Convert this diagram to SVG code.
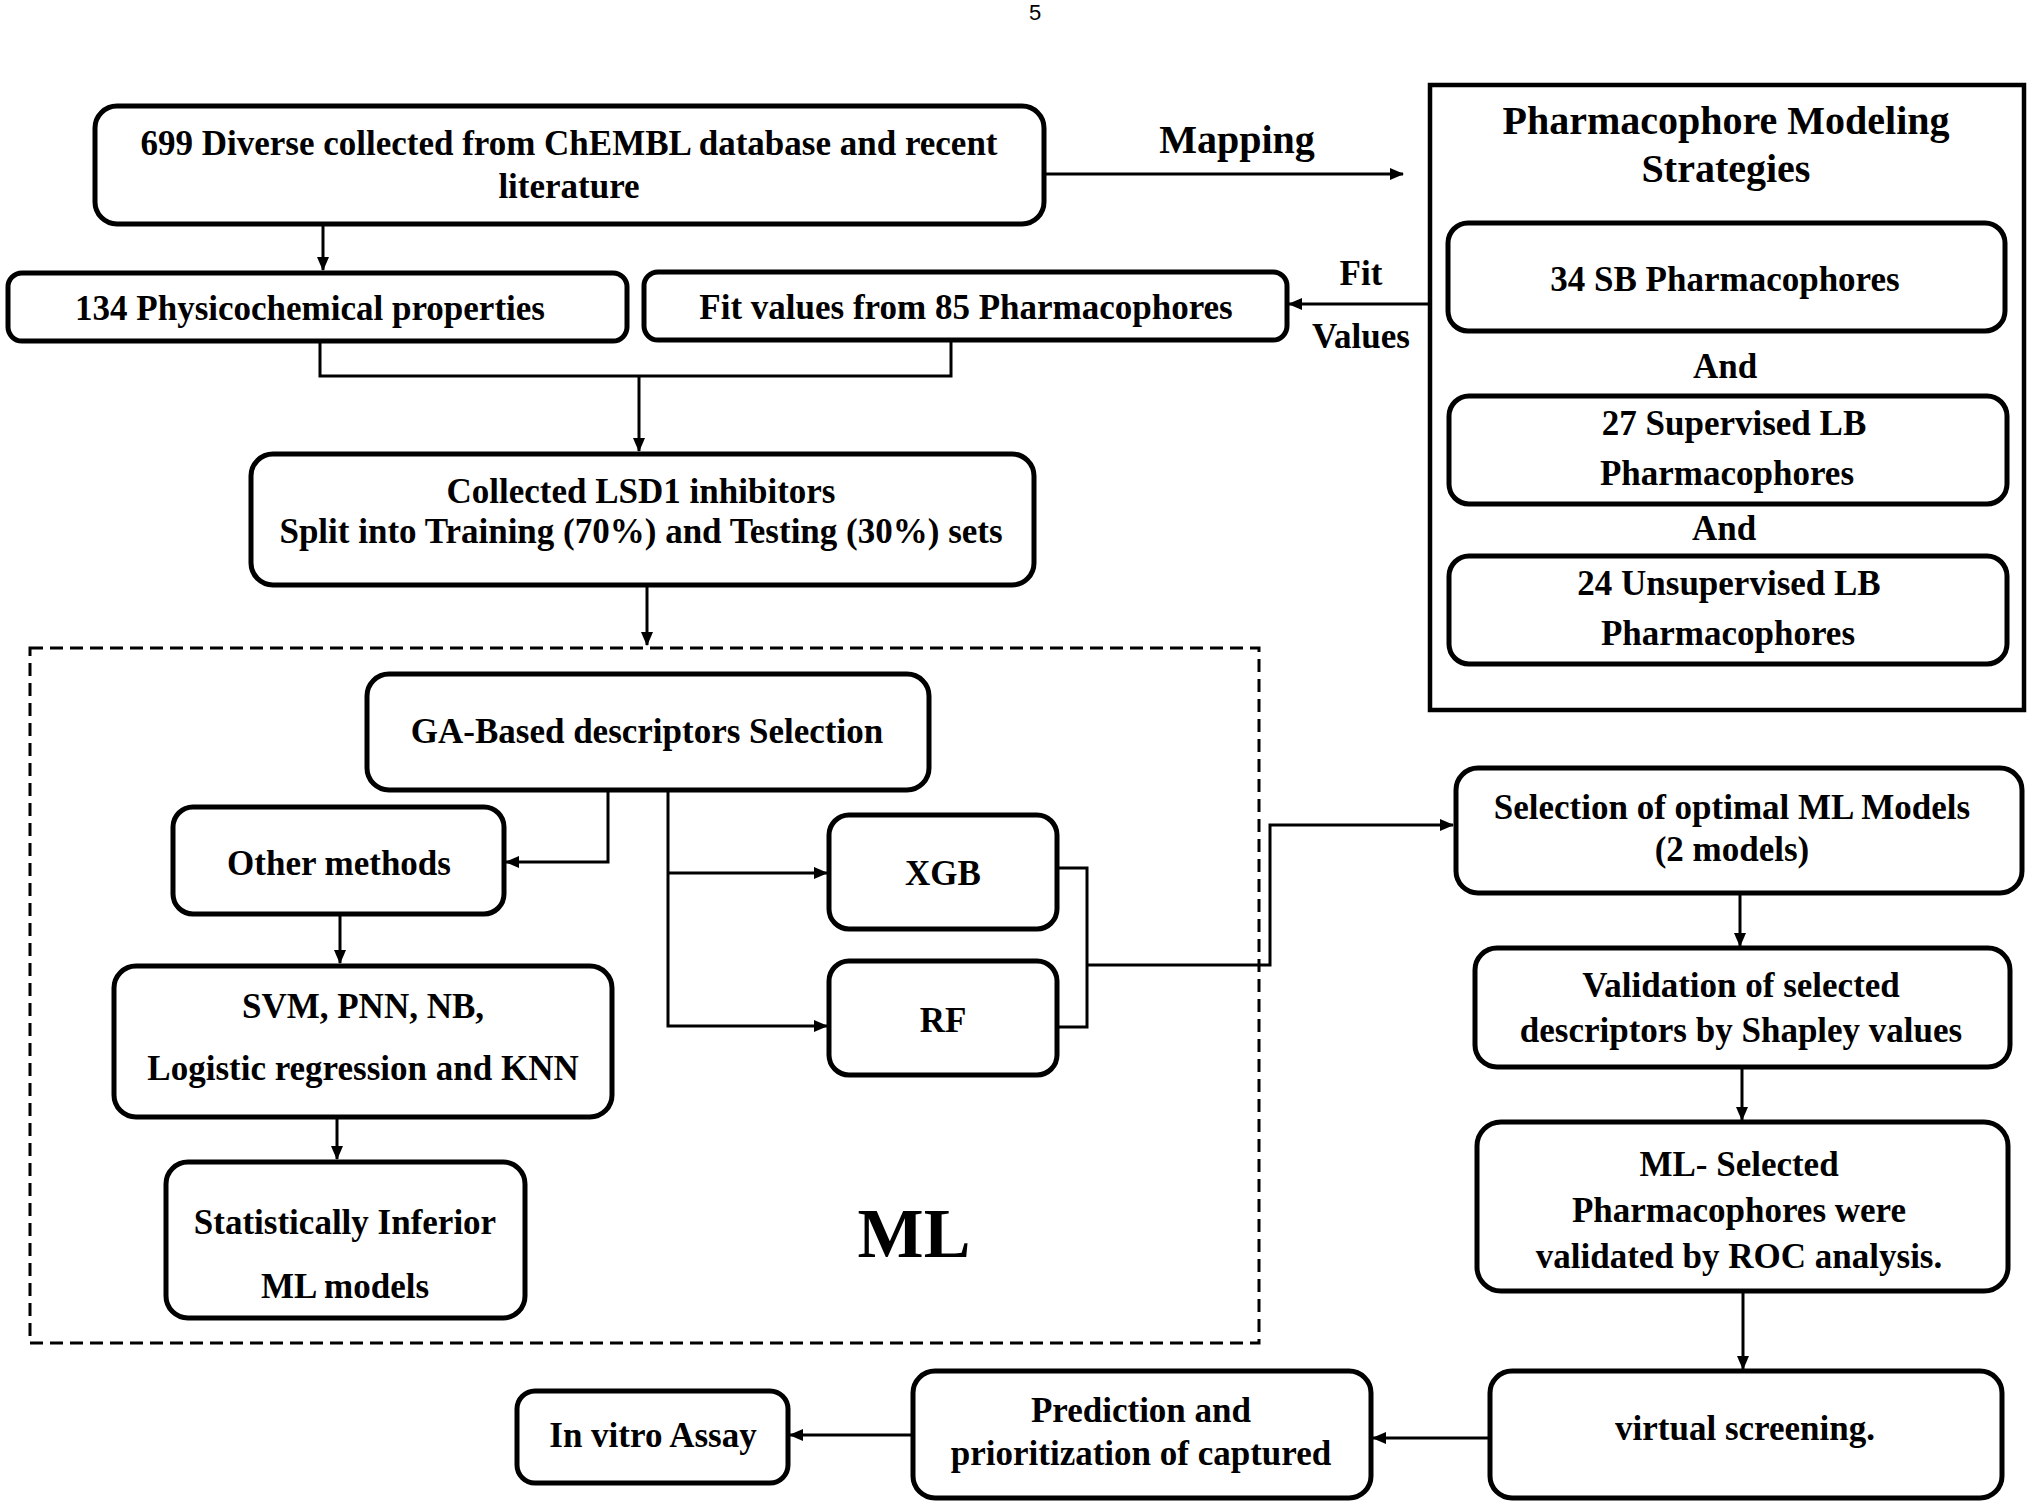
<svg xmlns="http://www.w3.org/2000/svg" width="2032" height="1511" viewBox="0 0 2032 1511">
<style>
.box{fill:#fff;stroke:#000;stroke-width:5}
.t{font-family:"Liberation Serif","Times New Roman",serif;font-weight:bold;font-size:35px;fill:#000;text-anchor:middle}
.big{font-size:40px}
.ml{font-size:70px}
.pg{font-family:"Liberation Sans",Arial,sans-serif;font-size:22px;fill:#000;text-anchor:middle}
.c{fill:none;stroke:#000;stroke-width:3}
</style>
<defs>
<marker id="ah" markerUnits="userSpaceOnUse" markerWidth="14" markerHeight="12" refX="13" refY="6" orient="auto">
<path d="M0,0 L14,6 L0,12 z" fill="#000"/>
</marker>
</defs>
<rect width="2032" height="1511" fill="#fff"/>
<text class="pg" x="1035" y="20">5</text>

<g id="connectors">
<line class="c" x1="1044" y1="174" x2="1403" y2="174" marker-end="url(#ah)"/>
<line class="c" x1="1429" y1="304" x2="1289" y2="304" marker-end="url(#ah)"/>
<line class="c" x1="323" y1="226" x2="323" y2="270" marker-end="url(#ah)"/>
<polyline class="c" points="320,342 320,376 951,376 951,341"/>
<line class="c" x1="639" y1="376" x2="639" y2="451" marker-end="url(#ah)"/>
<line class="c" x1="647" y1="587" x2="647" y2="645" marker-end="url(#ah)"/>
<polyline class="c" points="608,791 608,862 506,862" marker-end="url(#ah)"/>
<polyline class="c" points="668,791 668,1026 827,1026" marker-end="url(#ah)"/>
<line class="c" x1="668" y1="873" x2="827" y2="873" marker-end="url(#ah)"/>
<polyline class="c" points="1058,868 1087,868 1087,1027 1058,1027"/>
<polyline class="c" points="1087,965 1270,965 1270,825 1453,825" marker-end="url(#ah)"/>
<line class="c" x1="340" y1="916" x2="340" y2="963" marker-end="url(#ah)"/>
<line class="c" x1="337" y1="1119" x2="337" y2="1159" marker-end="url(#ah)"/>
<line class="c" x1="1740" y1="895" x2="1740" y2="946" marker-end="url(#ah)"/>
<line class="c" x1="1742" y1="1069" x2="1742" y2="1120" marker-end="url(#ah)"/>
<line class="c" x1="1743" y1="1293" x2="1743" y2="1369" marker-end="url(#ah)"/>
<line class="c" x1="1488" y1="1438" x2="1373" y2="1438" marker-end="url(#ah)"/>
<line class="c" x1="911" y1="1435" x2="790" y2="1435" marker-end="url(#ah)"/>
</g>

<g id="edge-labels">
<text class="t big" x="1237" y="153">Mapping</text>
<text class="t" x="1361" y="285">Fit</text>
<text class="t" x="1361" y="348">Values</text>
</g>

<g id="n-collected">
<rect class="box" x="95" y="106" width="949" height="118" rx="22"/>
<text class="t" x="569" y="155">699 Diverse collected from ChEMBL database and recent</text>
<text class="t" x="569" y="198">literature</text>
</g>

<g id="n-physchem">
<rect class="box" x="8" y="273" width="619" height="68" rx="14"/>
<text class="t" x="310" y="320">134 Physicochemical properties</text>
</g>

<g id="n-fitvalues">
<rect class="box" x="644" y="272" width="643" height="68" rx="14"/>
<text class="t" x="966" y="319">Fit values from 85 Pharmacophores</text>
</g>

<g id="n-pharmacophore">
<rect x="1430" y="85" width="594" height="625" fill="#fff" stroke="#000" stroke-width="4.5"/>
<text class="t big" x="1726" y="134">Pharmacophore Modeling</text>
<text class="t big" x="1726" y="182">Strategies</text>
<rect class="box" x="1448" y="223" width="557" height="108" rx="20"/>
<text class="t" x="1725" y="291">34 SB Pharmacophores</text>
<text class="t" x="1725" y="378">And</text>
<rect class="box" x="1449" y="396" width="558" height="108" rx="20"/>
<text class="t" x="1734" y="435">27 Supervised LB</text>
<text class="t" x="1727" y="485">Pharmacophores</text>
<text class="t" x="1724" y="540">And</text>
<rect class="box" x="1449" y="556" width="558" height="108" rx="20"/>
<text class="t" x="1729" y="595">24 Unsupervised LB</text>
<text class="t" x="1728" y="645">Pharmacophores</text>
</g>

<g id="n-lsd1">
<rect class="box" x="251" y="454" width="783" height="131" rx="22"/>
<text class="t" x="641" y="503">Collected LSD1 inhibitors</text>
<text class="t" x="641" y="543">Split into Training (70%) and Testing (30%) sets</text>
</g>

<g id="n-ml-group">
<rect x="30" y="648" width="1229" height="695" fill="none" stroke="#000" stroke-width="3" stroke-dasharray="13 7"/>
<text class="t ml" x="914" y="1257">ML</text>
</g>

<g id="n-ga">
<rect class="box" x="367" y="674" width="562" height="116" rx="22"/>
<text class="t" x="647" y="743">GA-Based descriptors Selection</text>
</g>

<g id="n-other">
<rect class="box" x="173" y="807" width="331" height="107" rx="20"/>
<text class="t" x="339" y="875">Other methods</text>
</g>

<g id="n-xgb">
<rect class="box" x="829" y="815" width="228" height="114" rx="20"/>
<text class="t" x="943" y="885">XGB</text>
</g>

<g id="n-rf">
<rect class="box" x="829" y="961" width="228" height="114" rx="20"/>
<text class="t" x="943" y="1032">RF</text>
</g>

<g id="n-svm">
<rect class="box" x="114" y="966" width="498" height="151" rx="22"/>
<text class="t" x="363" y="1018">SVM, PNN, NB,</text>
<text class="t" x="363" y="1080">Logistic regression and KNN</text>
</g>

<g id="n-inferior">
<rect class="box" x="166" y="1162" width="359" height="156" rx="22"/>
<text class="t" x="345" y="1234">Statistically Inferior</text>
<text class="t" x="345" y="1298">ML models</text>
</g>

<g id="n-selection">
<rect class="box" x="1456" y="768" width="566" height="125" rx="22"/>
<text class="t" x="1732" y="819">Selection of optimal ML Models</text>
<text class="t" x="1732" y="861">(2 models)</text>
</g>

<g id="n-validation">
<rect class="box" x="1475" y="948" width="535" height="119" rx="22"/>
<text class="t" x="1741" y="997">Validation of selected</text>
<text class="t" x="1741" y="1042">descriptors by Shapley values</text>
</g>

<g id="n-mlselected">
<rect class="box" x="1477" y="1122" width="531" height="169" rx="24"/>
<text class="t" x="1739" y="1176">ML- Selected</text>
<text class="t" x="1739" y="1222">Pharmacophores were</text>
<text class="t" x="1739" y="1268">validated by ROC analysis.</text>
</g>

<g id="n-vs">
<rect class="box" x="1490" y="1371" width="512" height="127" rx="22"/>
<text class="t" x="1745" y="1440">virtual screening.</text>
</g>

<g id="n-prediction">
<rect class="box" x="913" y="1371" width="458" height="127" rx="22"/>
<text class="t" x="1141" y="1422">Prediction and</text>
<text class="t" x="1141" y="1465">prioritization of captured</text>
</g>

<g id="n-invitro">
<rect class="box" x="517" y="1391" width="271" height="92" rx="18"/>
<text class="t" x="653" y="1447">In vitro Assay</text>
</g>
</svg>
